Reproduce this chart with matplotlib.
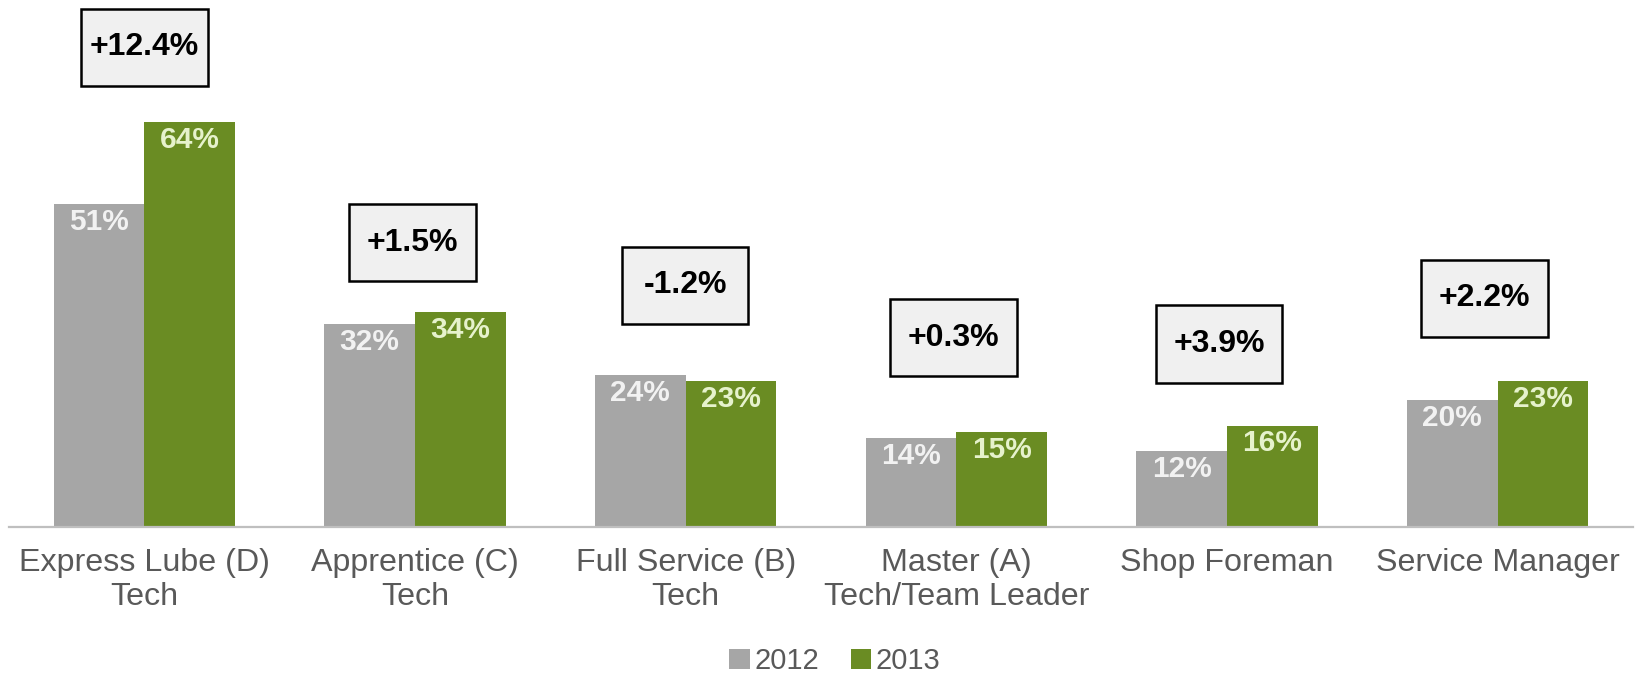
import matplotlib
matplotlib.use("Agg")
import matplotlib.pyplot as plt
from matplotlib.patches import Rectangle, Patch
import numpy as np

categories = ["Express Lube (D)\nTech", "Apprentice (C)\nTech", "Full Service (B)\nTech",
              "Master (A)\nTech/Team Leader", "Shop Foreman", "Service Manager"]
series_names = ["2012", "2013"]
values_2012 = [51, 32, 24, 14, 12, 20]
values_2013 = [64, 34, 23, 15, 16, 23]
changes = ["+12.4%", "+1.5%", "-1.2%", "+0.3%", "+3.9%", "+2.2%"]

# layout / style (annotation box placement)
box_x = [0.0, 0.991, 1.998, 2.990, 3.970, 4.951]
box_y = [75.8, 44.9, 38.2, 29.9, 28.9, 36.1]
c2012 = "#a6a6a6"
c2013 = "#6a8c23"
txt_gray = "#595959"

plt.rcParams['font.family'] = ['Liberation Sans', 'DejaVu Sans']

W, H = 1636, 674
fig = plt.figure(figsize=(W / 100, H / 100), dpi=100)
base_px = 527
ax = fig.add_axes([9 / W, (H - base_px) / H, (1633 - 9) / W, base_px / H])

x = np.arange(len(categories))
bw = 0.335
ax.bar(x - bw / 2, values_2012, bw, color=c2012, label=series_names[0])
ax.bar(x + bw / 2, values_2013, bw, color=c2013, label=series_names[1])

ax.set_xlim(-0.5, 5.5)
ax.set_ylim(0, base_px / 6.33)

for xi, v in zip(x - bw / 2, values_2012):
    ax.text(xi, v - 2.8, f"{v}%", ha="center", va="center", fontsize=21.5,
            fontweight="bold", color="#f2f2f2")
for xi, v in zip(x + bw / 2, values_2013):
    ax.text(xi, v - 2.8, f"{v}%", ha="center", va="center", fontsize=21.5,
            fontweight="bold", color="#e6f2cc")

bw_box, bh_box = 0.467, 12.2
for xi, yi, lab in zip(box_x, box_y, changes):
    ax.add_patch(Rectangle((xi - bw_box / 2, yi - bh_box / 2), bw_box, bh_box,
                           facecolor="#f0f0f0", edgecolor="black", linewidth=1.8,
                           zorder=3, clip_on=False))
    ax.text(xi, yi, lab, ha="center", va="center", fontsize=23, fontweight="bold",
            color="black", zorder=4)

ax.set_xticks(x)
ax.set_xticklabels(categories, fontsize=23.2, color=txt_gray, linespacing=1.19)
ax.tick_params(axis="x", length=0, pad=15)
ax.set_yticks([])
for s in ["top", "right", "left"]:
    ax.spines[s].set_visible(False)
ax.spines["bottom"].set_color("#bfbfbf")
ax.spines["bottom"].set_linewidth(1.6)

handles = [Patch(facecolor=c2012), Patch(facecolor=c2013)]
fig.legend(handles, series_names, loc="center", bbox_to_anchor=(835 / W, 1 - 661 / H),
           ncol=2, frameon=False, fontsize=21, handlelength=0.7, handleheight=0.7,
           handletextpad=0.15, columnspacing=1.1, labelcolor=txt_gray)

fig.savefig("out.png", dpi=100)
